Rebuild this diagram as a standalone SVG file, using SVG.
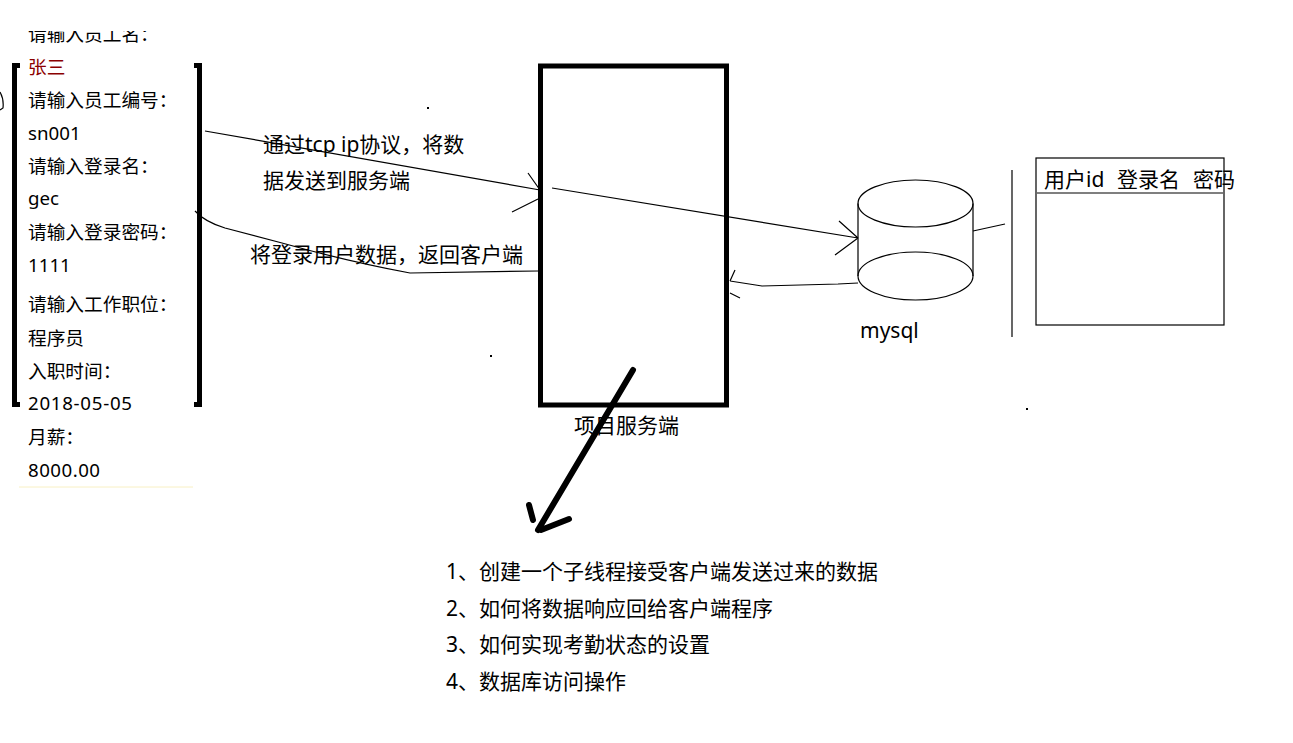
<svg xmlns="http://www.w3.org/2000/svg" width="1293" height="743" viewBox="0 0 1293 743">
<style>
text{font-family:"Noto Sans","Noto Sans CJK SC",sans-serif;fill:#000}
.l{font-size:18.7px}
.m{font-size:21px}
.thin{fill:none;stroke:#000;stroke-width:1.2}
.thick{fill:none;stroke:#000;stroke-width:5}
</style>
<rect width="1293" height="743" fill="#fff"/>
<g id="client-form">
<text class="l" x="28" y="41">请输入员工名：</text>
<rect x="0" y="0" width="200" height="31" fill="#fff"/>
<text class="l" x="28" y="74" style="fill:#8b0000">张三</text>
<text class="l" x="28" y="107">请输入员工编号：</text>
<text class="l" x="28" y="140">sn001</text>
<text class="l" x="28" y="173">请输入登录名：</text>
<text class="l" x="28" y="205">gec</text>
<text class="l" x="28" y="239">请输入登录密码：</text>
<text class="l" x="28" y="272">1111</text>
<text class="l" x="28" y="311">请输入工作职位：</text>
<text class="l" x="28" y="345">程序员</text>
<text class="l" x="28" y="378">入职时间：</text>
<text class="l" x="28" y="410" textLength="104">2018-05-05</text>
<text class="l" x="28" y="444">月薪：</text>
<text class="l" x="28" y="477" textLength="72">8000.00</text>
<path class="thick" d="M20,65.5 H14.5 V404.5 H20"/>
<path class="thick" d="M194,65.5 H199.5 V404.5 H194"/>
<line x1="19" y1="487" x2="193" y2="487" stroke="#f8f0c4" stroke-width="1"/>
<path class="thin" d="M0,92 Q4,99 3,108 L0,110"/>
</g>
<g id="server">
<rect x="540.5" y="66" width="186" height="339" class="thick"/>
<text class="m" x="574" y="433">项目服务端</text>
</g>
<g id="mysql">
<ellipse cx="915.5" cy="276" rx="57.5" ry="24" class="thin"/>
<path class="thin" d="M858,203.5 V276 M973,203.5 V276"/>
<ellipse cx="915.5" cy="203.5" rx="57.5" ry="23.5" class="thin" fill="#fff"/>
<text class="m" x="860" y="338">mysql</text>
</g>
<g id="table">
<line x1="1012" y1="170" x2="1012" y2="337" class="thin"/>
<rect x="1036" y="158" width="188" height="167" class="thin"/>
<line x1="1037" y1="193" x2="1223" y2="193" class="thin"/>
<text class="m" y="187"><tspan x="1044">用户id</tspan><tspan x="1117">登录名</tspan><tspan x="1193">密码</tspan></text>
</g>
<g id="notes">
<text class="m" x="446" y="579">1、创建一个子线程接受客户端发送过来的数据</text>
<text class="m" x="446" y="616">2、如何将数据响应回给客户端程序</text>
<text class="m" x="446" y="652">3、如何实现考勤状态的设置</text>
<text class="m" x="446" y="689">4、数据库访问操作</text>
</g>
<g id="connectors">
<path class="thin" d="M205,131 L540,190 M528,173 L540,190 M512,212 L538,199"/>
<text class="m" x="263" y="152">通过tcp ip协议，将数</text>
<text class="m" x="263" y="188">据发送到服务端</text>
<path class="thin" d="M552,188 L858,238 M839,221 L858,238 M835,255 L858,238"/>
<path class="thin" d="M195,211 Q205,222 225,228 L282,243 Q350,262 410,273 L538,271"/>
<text class="m" x="250" y="262">将登录用户数据，返回客户端</text>
<path class="thin" d="M858,283 L838,284 L762,286 L730,281 M735,270 L730,281 M730,293 L740,298"/>
<path class="thin" d="M973,231 L1005,224"/>
<path d="M633,370 L538,530 M529,505 L533,520 M569,519 L541,530" fill="none" stroke="#000" stroke-width="6" stroke-linecap="round"/>
</g>
<g id="specks" fill="#000">
<rect x="427" y="107" width="2" height="2"/>
<rect x="490" y="355" width="2" height="2"/>
<rect x="1026" y="408" width="2" height="2"/>
</g>
</svg>
